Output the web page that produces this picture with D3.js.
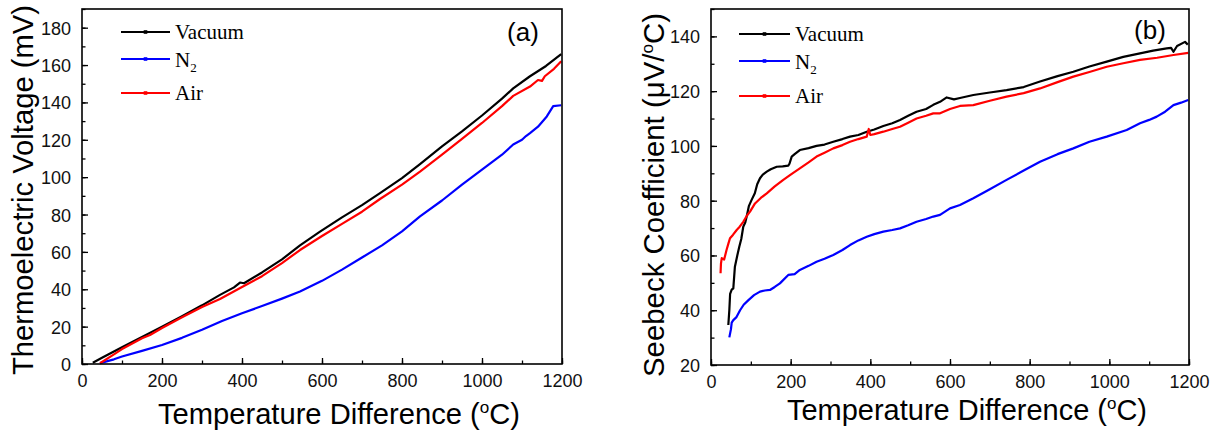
<!DOCTYPE html>
<html><head><meta charset="utf-8">
<script src="https://cdn.jsdelivr.net/npm/d3@7/dist/d3.min.js"></script>
<style>body{margin:0;background:#fff;}svg{display:block;}</style>
</head><body><svg id="c" width="1218" height="432"></svg>
<script>
// ---------- DATA ----------
const seriesNames = ["Vacuum", "N2", "Air"];
const seriesColors = ["#000000", "#0000ff", "#ff0000"];
const xTicks = [0, 200, 400, 600, 800, 1000, 1200];
const yTicksA = [0, 20, 40, 60, 80, 100, 120, 140, 160, 180];
const yTicksB = [20, 40, 60, 80, 100, 120, 140];

// (a) Thermoelectric voltage (mV) vs temperature difference (°C)
const voltVacuum = [[27,0.7],[50,3.3],[75,6.2],[100,9],[150,14.5],[200,20],[250,25.6],[300,31.4],[345,37],[380,41],[395,43.6],[405,43.2],[450,49],[500,56],[545,63.5],[595,70.8],[650,78.5],[700,85],[745,91.5],[800,99.5],[845,107],[900,116.5],[950,124.5],[1000,133],[1050,142],[1078,147.5],[1120,154],[1160,159.5],[1198,165.8]];
const voltN2 = [[45,0.5],[80,2.5],[100,4],[150,7],[200,10.2],[250,14],[300,18.3],[350,23],[400,27.2],[450,31],[500,35],[545,38.8],[600,44.5],[650,50.5],[700,57],[750,63.5],[800,71],[845,79],[900,87.5],[950,96],[1000,104],[1050,112],[1078,117.5],[1100,120],[1110,122],[1120,123.6],[1140,127],[1162,132.5],[1178,138],[1198,138.5]];
const voltAir = [[45,0.4],[75,4.5],[100,8],[150,13.8],[170,15.5],[200,19.3],[250,25],[300,30.5],[345,34.8],[400,41.2],[450,47],[500,54],[545,61],[600,68.5],[650,75],[700,81.5],[745,88.3],[800,96],[845,103],[900,112],[950,120.5],[1000,129],[1050,138],[1078,143.5],[1120,148.5],[1140,152],[1150,151.5],[1157,154],[1180,158],[1198,162]];

// (b) Seebeck coefficient (µV/°C) vs temperature difference (°C)
const seebeckVacuum = [[43.5,34.6],[46,40],[48,46],[52,47.5],[56,48],[60,55.9],[66,60],[71,63.2],[76,66],[81,70.5],[86,72],[89.6,74.2],[95,78],[102,80.3],[110,82.7],[116,86],[123,88.2],[130,89.5],[140,90.6],[150,91.5],[165,92.4],[180,92.5],[194,92.8],[197,93.5],[202.6,96.1],[210,97],[223,98.5],[245,99.2],[265,100],[285,100.5],[307,101.5],[330,102.5],[349,103.4],[370,104],[391,105.2],[410,106],[432.6,107.3],[455,108.3],[474.5,109.5],[495,111],[516,112.5],[540,113.5],[558,115],[575,116.1],[591.7,117.7],[610,117],[625,117.5],[658.6,118.6],[700,119.5],[742,120.4],[785,121.5],[826,123.5],[870,125.5],[909.6,127.1],[950,129],[993.5,130.8],[1035,132.5],[1077,133.8],[1110,134.8],[1144,135.6],[1155,135.8],[1161,134.4],[1170,136.5],[1190,138],[1197,137]];
const seebeckN2 = [[46,30.1],[50,33],[52,35.5],[56,36.4],[64,37.5],[73,40],[82,42],[94,43.7],[108,45.5],[123,46.8],[135,47.2],[148,47.4],[160,48.5],[173,49.8],[194,52.9],[210,53.2],[223,54.7],[245,56.2],[265,57.7],[285,58.8],[307,60.2],[330,62],[349,63.8],[370,65.5],[391,66.8],[410,67.8],[432.6,68.7],[455,69.3],[474.5,69.9],[495,71],[516,72.3],[540,73.3],[558,74.2],[575,74.8],[600,77.2],[625,78.4],[658.6,80.9],[700,84.2],[742,87.6],[785,91],[826,94.2],[870,97],[909.6,99.1],[950,101.5],[993.5,103.4],[1043.6,105.8],[1077,108.3],[1100,109.5],[1119,110.7],[1140,112.5],[1161,114.9],[1180,115.8],[1198,116.8]];
const seebeckAir = [[24,53.5],[25,57],[27,59],[33,58.5],[39,62],[44,64.5],[47.7,66.3],[55,67.5],[64.5,69.3],[72,70.5],[81,72.3],[90,74.5],[98,76],[110.5,79],[125,81],[140,82.7],[160,85.2],[181.5,87.6],[200,89.5],[223,91.8],[245,94],[265,96.1],[285,97.5],[307,99.1],[330,100.3],[349,101.5],[370,102.5],[391,103.4],[396,106.2],[400,104],[410,104.3],[432.6,105.2],[455,106.2],[474.5,107],[495,108.5],[516,110],[540,111],[558,111.9],[575,111.9],[600,113.5],[625,114.6],[658.6,114.9],[700,116.5],[742,118],[785,119.3],[826,121],[870,123.3],[909.6,125.3],[950,127],[993.5,128.9],[1035,130.2],[1077,131.4],[1120,132.2],[1161,133.2],[1198,134]];

// ---------- DRAW ----------
const svg = d3.select("#c");
const SANS = "'Liberation Sans', Arial, sans-serif";
const SERIF = "'Liberation Serif', 'Times New Roman', serif";

function panel(cfg) {
  const x = d3.scaleLinear().domain([0, 1200]).range([cfg.left, cfg.right]);
  const y = d3.scaleLinear().domain(cfg.yDomain).range([cfg.bottom, cfg.top]);
  const g = svg.append("g");

  const line = d3.line().x(d => x(d[0])).y(d => y(d[1]));
  cfg.series.forEach((s, i) => {
    g.append("path").datum(s).attr("d", line)
      .attr("fill", "none").attr("stroke", seriesColors[i])
      .attr("stroke-width", 2.2).attr("stroke-linejoin", "round");
  });

  const xMinor = d3.range(0, 1201, 100);
  const yMinor = d3.range(cfg.yDomain[0], cfg.yDomain[1] + 0.1, 10);
  const ax = g.append("g").attr("transform", `translate(0,${cfg.bottom})`)
    .call(d3.axisBottom(x).tickValues(xMinor).tickSize(-3.5).tickFormat(""));
  const ax2 = g.append("g").attr("transform", `translate(0,${cfg.bottom})`)
    .call(d3.axisBottom(x).tickValues(xTicks).tickSize(-6).tickFormat(d3.format("d")));
  const ay = g.append("g").attr("transform", `translate(${cfg.left},0)`)
    .call(d3.axisLeft(y).tickValues(yMinor).tickSize(-3.5).tickFormat(""));
  const ay2 = g.append("g").attr("transform", `translate(${cfg.left},0)`)
    .call(d3.axisLeft(y).tickValues(cfg.yTicks).tickSize(-6).tickPadding(11).tickFormat(d3.format("d")));
  [ax, ax2, ay, ay2].forEach(a => {
    a.select(".domain").remove();
    a.selectAll(".tick line").attr("stroke", "#000").attr("stroke-width", 1.3);
    a.selectAll(".tick text").attr("font-family", SANS).attr("font-size", 18).attr("fill", "#111");
  });
  ax2.selectAll(".tick text").attr("dy", null).attr("y", 23);
  ay2.selectAll(".tick text").attr("dy", "0.36em");

  g.append("rect").attr("x", cfg.left).attr("y", cfg.top)
    .attr("width", cfg.right - cfg.left).attr("height", cfg.bottom - cfg.top)
    .attr("fill", "none").attr("stroke", "#000").attr("stroke-width", 1.6);

  // x title
  const xt = g.append("text").attr("x", cfg.xTitleX).attr("y", cfg.xTitleY)
    .attr("text-anchor", "middle").attr("font-family", SANS).attr("font-size", 29).attr("fill", "#000")
    .attr("textLength", cfg.xTitleLen).attr("lengthAdjust", "spacingAndGlyphs");
  xt.append("tspan").text("Temperature Difference (");
  xt.append("tspan").text("o").attr("font-size", 17).attr("dy", -11);
  xt.append("tspan").text("C)").attr("dy", 11);

  // y title
  const yt = g.append("text").attr("transform", `translate(${cfg.yTitleX},${cfg.yTitleY}) rotate(-90)`)
    .attr("text-anchor", "middle").attr("font-family", SANS).attr("font-size", 29).attr("fill", "#000")
    .attr("textLength", cfg.yTitleLen).attr("lengthAdjust", "spacingAndGlyphs");
  cfg.yTitle(yt);

  g.append("text").attr("x", cfg.letterX).attr("y", cfg.letterY).attr("text-anchor", "middle")
    .attr("font-family", SANS).attr("font-size", 26).attr("fill", "#000").text(cfg.letter);

  cfg.legendY.forEach((ly, i) => {
    g.append("line").attr("x1", cfg.legX1).attr("x2", cfg.legX2).attr("y1", ly).attr("y2", ly)
      .attr("stroke", seriesColors[i]).attr("stroke-width", 2.2);
    g.append("rect").attr("x", (cfg.legX1 + cfg.legX2) / 2 - 1.8).attr("y", ly - 1.8)
      .attr("width", 3.6).attr("height", 3.6).attr("fill", seriesColors[i]);
    const t = g.append("text").attr("x", cfg.legX2 + 5).attr("y", ly + cfg.legDy[i])
      .attr("font-family", SERIF).attr("font-size", 21).attr("fill", "#000");
    if (seriesNames[i] === "N2") {
      t.append("tspan").text("N");
      t.append("tspan").text("2").attr("font-size", 13).attr("dy", 5);
    } else t.text(seriesNames[i]);
  });
}

panel({
  left: 82, right: 562, top: 9, bottom: 364, yDomain: [0, 190], yTicks: yTicksA,
  series: [voltVacuum, voltN2, voltAir],
  xTitleX: 339, xTitleY: 424, xTitleLen: 362,
  yTitleX: 33, yTitleY: 190, yTitleLen: 370,
  yTitle: t => t.text("Thermoelectric Voltage (mV)"),
  letter: "(a)", letterX: 523, letterY: 41,
  legX1: 121, legX2: 170, legendY: [32, 59, 93], legDy: [7, 8, 7]
});

panel({
  left: 711, right: 1189, top: 9, bottom: 365, yDomain: [20, 150], yTicks: yTicksB,
  series: [seebeckVacuum, seebeckN2, seebeckAir],
  xTitleX: 967, xTitleY: 420, xTitleLen: 360,
  yTitleX: 664, yTitleY: 195, yTitleLen: 364,
  yTitle: t => {
    t.append("tspan").text("Seebeck Coefficient (\u03BCV/");
    t.append("tspan").text("o").attr("font-size", 17).attr("dy", -11);
    t.append("tspan").text("C)").attr("dy", 11);
  },
  letter: "(b)", letterX: 1150, letterY: 39,
  legX1: 739, legX2: 790, legendY: [34, 61, 96], legDy: [7, 8, 7]
});
</script></body></html>
